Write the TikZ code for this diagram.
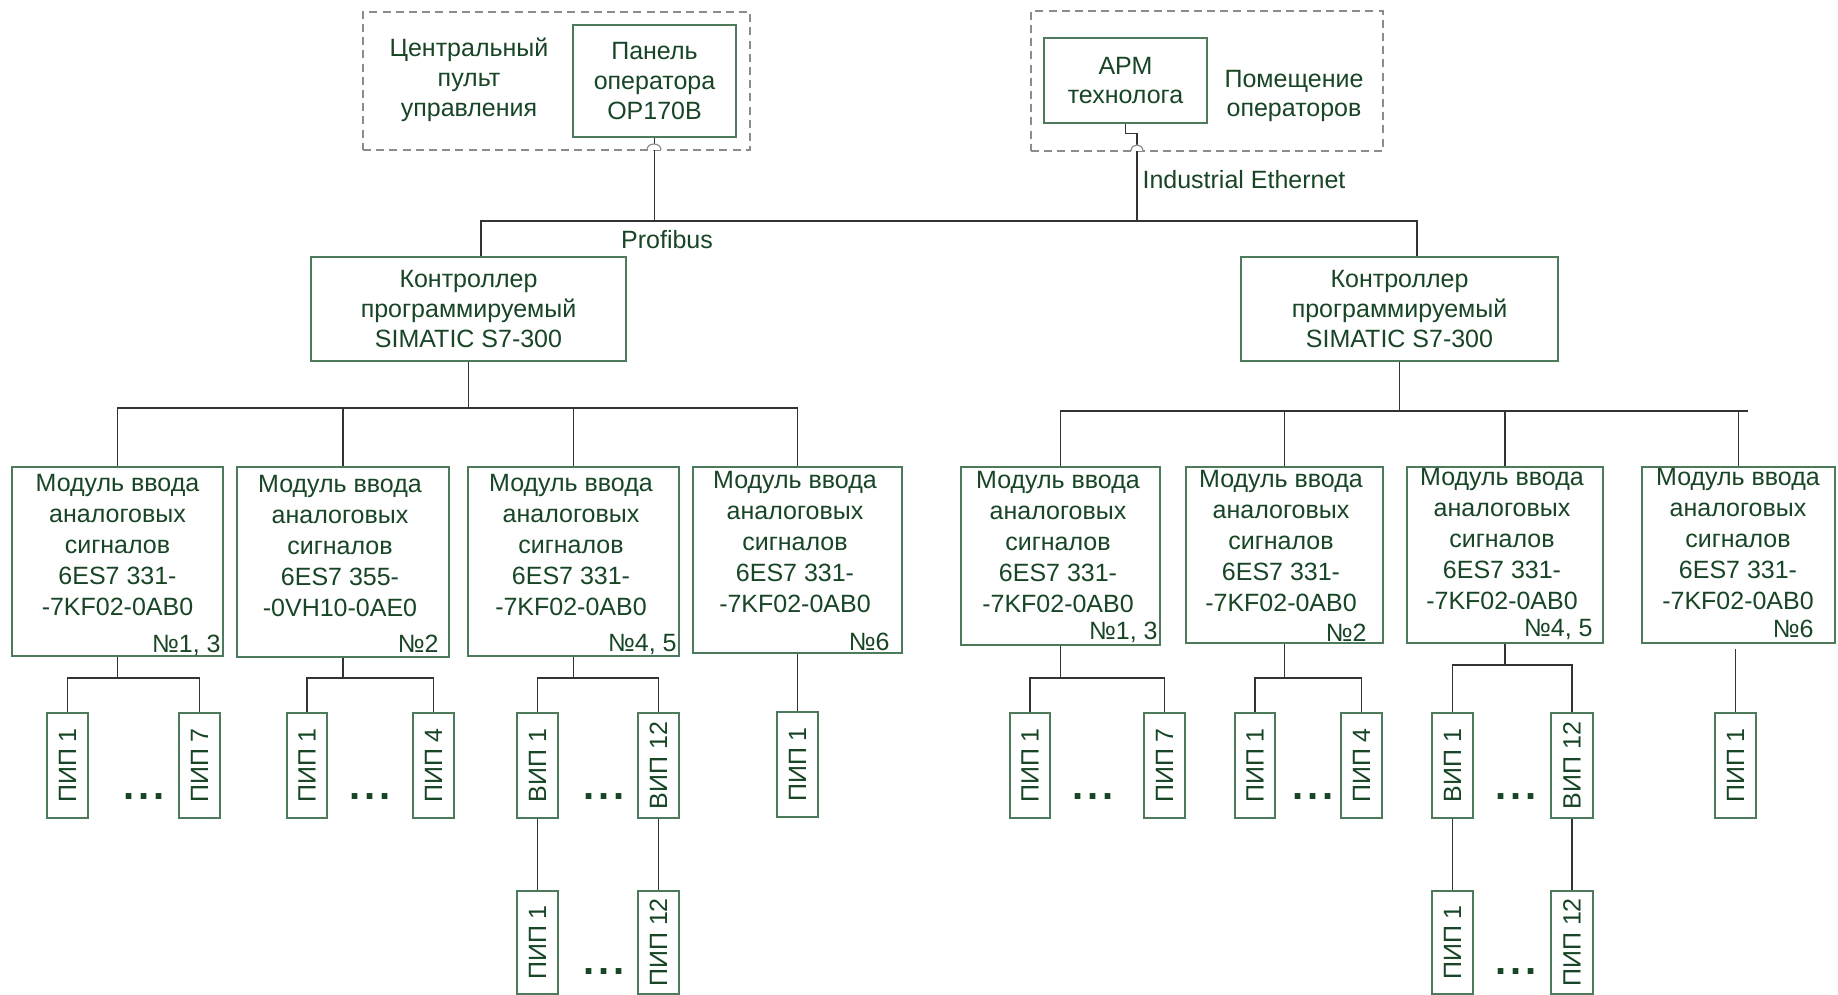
\documentclass[tikz,border=0pt]{standalone}
\usepackage{fontspec}
\setmainfont{Liberation Sans}
\usetikzlibrary{fit}
\definecolor{txtc}{HTML}{184526}
\definecolor{boxc}{HTML}{4E7A5C}
\definecolor{linec}{HTML}{333333}
\definecolor{dashc}{HTML}{8C8C8C}
\newcommand\fsz{\fontsize{12.5}{15.5}\selectfont}
\newcommand\fszc{\fontsize{12.5}{14.9}\selectfont}
\tikzset{
  boxst/.style={draw=boxc, line width=0.7pt, inner sep=0pt},
  grpst/.style={draw=dashc, dash pattern=on 4pt off 2.6pt, line width=0.6pt, inner sep=0pt},
  txt/.style={text=txtc, font=\fsz, align=center, inner sep=0pt},
  ctxt/.style={text=txtc, font=\fszc, align=center, inner sep=0pt},
  numst/.style={text=txtc, font=\fsz, inner sep=0pt, anchor=base east},
  sens/.style={text=txtc, font=\fsz, inner sep=0pt, rotate=90},
  dotst/.style={text=txtc, font=\fontsize{20}{20}\selectfont\bfseries, inner sep=0pt},
  con/.style={draw=linec, line width=0.55pt},
  hop/.style={draw=dashc, line width=0.6pt},
}
\begin{document}
\begin{tikzpicture}[x=0.5pt,y=-0.5pt]
\useasboundingbox (0,0) rectangle (1838,995);
\fill[white] (0,0) rectangle (1838,995);

% groups
\node[grpst, fit={(363,12)(750,150)}] (g1) {};
\node[grpst, fit={(1031,11)(1383,151)}] (g2) {};
\node[ctxt] (g1t) at (469,80) {Центральный\\пульт\\управления};
\node[ctxt] (g2t) at (1294,96) {Помещение\\операторов};

% top boxes
\node[boxst, fit={(573,25)(736,137)}] (pan) {};
\node[ctxt] (pant) at (pan.center) {Панель\\оператора\\OP170B};
\node[boxst, fit={(1044,38)(1207,123)}] (arm) {};
\node[ctxt] (armt) at (arm.center) {АРМ\\технолога};

% controllers
\node[boxst, fit={(311,257)(626,361)}] (c1) {};
\node[ctxt] (c1t) at (c1.center) {Контроллер\\программируемый\\SIMATIC S7-300};
\node[boxst, fit={(1241,257)(1558,361)}] (c2) {};
\node[ctxt] (c2t) at (c2.center) {Контроллер\\программируемый\\SIMATIC S7-300};

% network labels
\node[txt] (prof) at (667,240) {Profibus};
\node[txt] (ieth) at (1244,180) {Industrial Ethernet};

% top network
\coordinate (bL) at (481,221);
\coordinate (bR) at (1417,221);
\coordinate (eJ) at (1137,221);
\draw[con] (c1.north -| bL) -- (bL) -- (bR) -- (bR |- c2.north);
\draw[con] (pan.south) -- (pan.south |- bL);
\draw[con] (arm.south) -- ++(0,10) -| (eJ);
% hops of dashed lines over connectors
\draw[hop, fill=white] (647,150) .. controls (647,142) and (661,142) .. (661,150);
\draw[hop, fill=white] (1131,151) .. controls (1131,143) and (1143,143) .. (1143,151);

% modules
\node[boxst, fit={(12,467)(223,656)}] (m1) {};
\node[boxst, fit={(237,467)(449,657)}] (m2) {};
\node[boxst, fit={(468,467)(679,656)}] (m3) {};
\node[boxst, fit={(693,467)(902,653)}] (m4) {};
\node[boxst, fit={(961,467)(1160,645)}] (m5) {};
\node[boxst, fit={(1186,467)(1383,643)}] (m6) {};
\node[boxst, fit={(1407,467)(1603,643)}] (m7) {};
\node[boxst, fit={(1642,467)(1835,643)}] (m8) {};

\node[txt] (m1t) at (117.5,545.5) {Модуль ввода\\аналоговых\\сигналов\\6ES7 331-\\-7KF02-0AB0};
\node[txt] (m2t) at (340,546) {Модуль ввода\\аналоговых\\сигналов\\6ES7 355-\\-0VH10-0AE0};
\node[txt] (m3t) at (571,545) {Модуль ввода\\аналоговых\\сигналов\\6ES7 331-\\-7KF02-0AB0};
\node[txt] (m4t) at (795,542) {Модуль ввода\\аналоговых\\сигналов\\6ES7 331-\\-7KF02-0AB0};
\node[txt] (m5t) at (1058,542) {Модуль ввода\\аналоговых\\сигналов\\6ES7 331-\\-7KF02-0AB0};
\node[txt] (m6t) at (1281,541.5) {Модуль ввода\\аналоговых\\сигналов\\6ES7 331-\\-7KF02-0AB0};
\node[txt] (m7t) at (1502,539) {Модуль ввода\\аналоговых\\сигналов\\6ES7 331-\\-7KF02-0AB0};
\node[txt] (m8t) at (1738,539) {Модуль ввода\\аналоговых\\сигналов\\6ES7 331-\\-7KF02-0AB0};

\node[numst] (m1n) at (221,652) {№1, 3};
\node[numst] (m2n) at (439,652) {№2};
\node[numst] (m3n) at (677,651) {№4, 5};
\node[numst] (m4n) at (890,650) {№6};
\node[numst] (m5n) at (1158,639) {№1, 3};
\node[numst] (m6n) at (1367,641) {№2};
\node[numst] (m7n) at (1593,636) {№4, 5};
\node[numst] (m8n) at (1814,637) {№6};

% module buses
\coordinate (lb) at (0,408);
\coordinate (rb) at (0,411);
\draw[con] (c1.south) -- (c1.south |- lb);
\draw[con] (m1.north) -- (m1.north |- lb) -- (m4.north |- lb) -- (m4.north);
\draw[con] (m2.north) -- (m2.north |- lb);
\draw[con] (m3.north) -- (m3.north |- lb);
\draw[con] (c2.south) -- (c2.south |- rb);
\draw[con] (m5.north) -- (m5.north |- rb) -- (m8.north |- rb) -- ++(9,0);
\draw[con] (m6.north) -- (m6.north |- rb);
\draw[con] (m7.north) -- (m7.north |- rb);
\draw[con] (m8.north) -- (m8.north |- rb);

% sensors
\node[boxst, fit={(47,713)(88,818)}] (s11) {};
\node[boxst, fit={(179,713)(220,818)}] (s12) {};
\node[boxst, fit={(287,713)(327,818)}] (s21) {};
\node[boxst, fit={(413,713)(454,818)}] (s22) {};
\node[boxst, fit={(517,713)(558,818)}] (s31) {};
\node[boxst, fit={(638,713)(679,818)}] (s32) {};
\node[boxst, fit={(517,891)(558,994)}] (s33) {};
\node[boxst, fit={(638,891)(679,994)}] (s34) {};
\node[boxst, fit={(777,712)(818,817)}] (s41) {};
\node[boxst, fit={(1010,713)(1050,818)}] (s51) {};
\node[boxst, fit={(1144,713)(1185,818)}] (s52) {};
\node[boxst, fit={(1235,713)(1275,818)}] (s61) {};
\node[boxst, fit={(1341,713)(1382,818)}] (s62) {};
\node[boxst, fit={(1432,713)(1473,818)}] (s71) {};
\node[boxst, fit={(1551,713)(1593,818)}] (s72) {};
\node[boxst, fit={(1432,891)(1473,994)}] (s73) {};
\node[boxst, fit={(1551,891)(1593,994)}] (s74) {};
\node[boxst, fit={(1715,713)(1756,818)}] (s81) {};

\node[sens] (s11t) at (s11.center) {ПИП 1};
\node[sens] (s12t) at (s12.center) {ПИП 7};
\node[sens] (s21t) at (s21.center) {ПИП 1};
\node[sens] (s22t) at (s22.center) {ПИП 4};
\node[sens] (s31t) at (s31.center) {ВИП 1};
\node[sens] (s32t) at (s32.center) {ВИП 12};
\node[sens] (s33t) at (s33.center) {ПИП 1};
\node[sens] (s34t) at (s34.center) {ПИП 12};
\node[sens] (s41t) at (s41.center) {ПИП 1};
\node[sens] (s51t) at (s51.center) {ПИП 1};
\node[sens] (s52t) at (s52.center) {ПИП 7};
\node[sens] (s61t) at (s61.center) {ПИП 1};
\node[sens] (s62t) at (s62.center) {ПИП 4};
\node[sens] (s71t) at (s71.center) {ВИП 1};
\node[sens] (s72t) at (s72.center) {ВИП 12};
\node[sens] (s73t) at (s73.center) {ПИП 1};
\node[sens] (s74t) at (s74.center) {ПИП 12};
\node[sens] (s81t) at (s81.center) {ПИП 1};

% dots
\node[dotst] (d1) at (144,797) {.\kern2pt.\kern2pt.};
\node[dotst] (d2) at (370,797) {.\kern2pt.\kern2pt.};
\node[dotst] (d3) at (604,797) {.\kern2pt.\kern2pt.};
\node[dotst] (d3b) at (604,972) {.\kern2pt.\kern2pt.};
\node[dotst] (d5) at (1093,797) {.\kern2pt.\kern2pt.};
\node[dotst] (d6) at (1313,797) {.\kern2pt.\kern2pt.};
\node[dotst] (d7) at (1516,797) {.\kern2pt.\kern2pt.};
\node[dotst] (d7b) at (1516,972) {.\kern2pt.\kern2pt.};

% sensor connectors
\coordinate (fa) at (0,678);
\coordinate (fb) at (0,665);
\draw[con] (m1.south) -- (m1.south |- fa);
\draw[con] (s11.north) -- (s11.north |- fa) -- (s12.north |- fa) -- (s12.north);
\draw[con] (m2.south) -- (m2.south |- fa);
\draw[con] (s21.north) -- (s21.north |- fa) -- (s22.north |- fa) -- (s22.north);
\draw[con] (m3.south) -- (m3.south |- fa);
\draw[con] (s31.north) -- (s31.north |- fa) -- (s32.north |- fa) -- (s32.north);
\draw[con] (s31.south) -- (s33.north);
\draw[con] (s32.south) -- (s34.north);
\draw[con] (m4.south) -- (s41.north);
\draw[con] (m5.south) -- (m5.south |- fa);
\draw[con] (s51.north) -- (s51.north |- fa) -- (s52.north |- fa) -- (s52.north);
\draw[con] (m6.south) -- (m6.south |- fa);
\draw[con] (s61.north) -- (s61.north |- fa) -- (s62.north |- fa) -- (s62.north);
\draw[con] (m7.south) -- (m7.south |- fb);
\draw[con] (s71.north) -- (s71.north |- fb) -- (s72.north |- fb) -- (s72.north);
\draw[con] (s71.south) -- (s73.north);
\draw[con] (s72.south) -- (s74.north);
\coordinate (g8) at (1735.5,649);
\draw[con] (g8) -- (s81.north);
\end{tikzpicture}
\end{document}
